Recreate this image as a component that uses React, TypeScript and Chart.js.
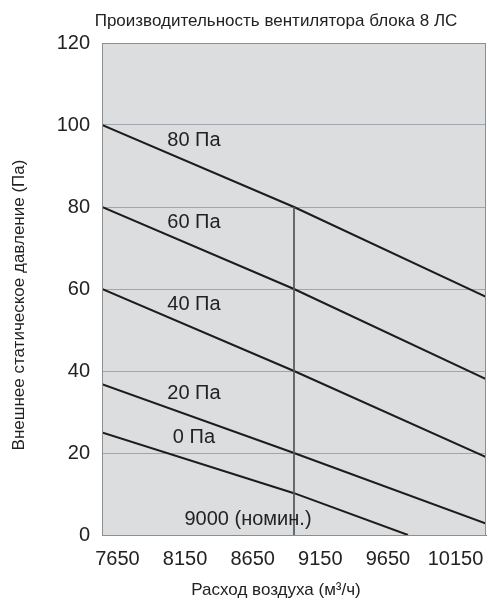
import React, { useEffect, useRef } from "react";
import { Chart, registerables } from "chart.js";

Chart.register(...registerables);

// Captions
const chartTitle = "Производительность вентилятора блока 8 ЛС";
const xAxisTitle = "Расход воздуха (м³/ч)";
const yAxisTitle = "Внешнее статическое давление (Па)";

// Horizontal axis: airflow, m³/h
const airflowMin = 7580;
const airflowMax = 10420;
const xTickValues = [7650, 8150, 8650, 9150, 9650, 10150];

// Vertical axis: external static pressure, Pa
const pressureMin = 0;
const pressureMax = 120;
const pressureStep = 20;

// Fan curves at each static pressure setting
const curveNames = ["80 Па", "60 Па", "40 Па", "20 Па", "0 Па"];
const airflow80 = [7580, 9000, 10420];
const pressure80 = [100, 80, 58.1];
const airflow60 = [7580, 9000, 10420];
const pressure60 = [80, 60, 38];
const airflow40 = [7580, 9000, 10420];
const pressure40 = [60, 40, 19];
const airflow20 = [7580, 9000, 10420];
const pressure20 = [36.8, 20, 2.8];
const airflow0 = [7580, 9000, 9843];
const pressure0 = [25, 10.2, 0];

// Nominal airflow marker
const nominalAirflow = 9000;
const nominalPressure = [80, 0];
const nominalLabel = "9000 (номин.)";
const nominalLabelAt = [8660, 3.8];

// Curve names are written just above each curve at this airflow
const curveLabelAirflow = 8260;

const curveAirflows = [airflow80, airflow60, airflow40, airflow20, airflow0];
const curvePressures = [pressure80, pressure60, pressure40, pressure20, pressure0];

const FONT = "'Liberation Sans', Arial, sans-serif";
const TEXT = "#222222";

function interpolate(xs: number[], ys: number[], x: number): number {
  for (let i = 0; i < xs.length - 1; i++) {
    if (x >= xs[i] && x <= xs[i + 1]) {
      const t = (x - xs[i]) / (xs[i + 1] - xs[i]);
      return ys[i] + t * (ys[i + 1] - ys[i]);
    }
  }
  return ys[ys.length - 1];
}

const plotDecor = {
  id: "plotDecor",
  beforeDraw(chart: any) {
    const { ctx, chartArea: a } = chart;
    ctx.save();
    ctx.fillStyle = "#dcdddf";
    ctx.fillRect(a.left, a.top, a.right - a.left, a.bottom - a.top);
    ctx.restore();
  },
  afterDatasetsDraw(chart: any) {
    const { ctx, scales } = chart;
    const xs = scales.x;
    const ys = scales.y;
    ctx.save();
    ctx.fillStyle = TEXT;
    ctx.font = `20px ${FONT}`;
    ctx.textAlign = "center";
    ctx.textBaseline = "middle";
    const lx = xs.getPixelForValue(curveLabelAirflow);
    curveNames.forEach((name, i) => {
      const p = interpolate(curveAirflows[i], curvePressures[i], curveLabelAirflow);
      ctx.fillText(name, lx, ys.getPixelForValue(p) - 24);
    });
    ctx.fillText(
      nominalLabel,
      xs.getPixelForValue(nominalLabelAt[0]),
      ys.getPixelForValue(nominalLabelAt[1])
    );
    ctx.restore();
  },
  afterDraw(chart: any) {
    const { ctx, chartArea: a, width } = chart;
    ctx.save();
    // frame around the plot
    ctx.strokeStyle = "#8e8e8e";
    ctx.lineWidth = 1;
    ctx.strokeRect(a.left + 0.5, a.top + 0.5, a.right - a.left - 1, a.bottom - a.top);

    ctx.fillStyle = TEXT;
    ctx.font = `17px ${FONT}`;
    ctx.textAlign = "center";
    ctx.textBaseline = "alphabetic";
    const cx = (a.left + width) / 2 - 23;
    ctx.fillText(chartTitle, cx, a.top - 17);
    ctx.fillText(xAxisTitle, cx, a.bottom + 60);

    ctx.translate(24, (a.top + a.bottom) / 2 + 16);
    ctx.rotate(-Math.PI / 2);
    ctx.fillText(yAxisTitle, 0, 0);
    ctx.restore();
  },
};

export default function App() {
  const canvasRef = useRef<HTMLCanvasElement | null>(null);

  useEffect(() => {
    document.body.style.margin = "0";
    const canvas = canvasRef.current;
    if (!canvas) return;

    const curveSets = curveNames.map((name, i) => ({
      label: name,
      data: curveAirflows[i].map((x, j) => ({ x, y: curvePressures[i][j] })),
      showLine: true,
      borderColor: "#1c1c1c",
      borderWidth: 2,
      pointRadius: 0,
      fill: false,
    }));

    const nominalSet = {
      label: nominalLabel,
      data: nominalPressure.map((y) => ({ x: nominalAirflow, y })),
      showLine: true,
      borderColor: "#555a60",
      borderWidth: 1,
      pointRadius: 0,
      fill: false,
    };

    const chart = new Chart(canvas, {
      type: "scatter",
      data: { datasets: [nominalSet, ...curveSets] },
      options: {
        animation: false,
        responsive: false,
        layout: { padding: { top: 43, right: 10, left: 0, bottom: 0 } },
        plugins: {
          legend: { display: false },
          tooltip: { enabled: false },
          title: { display: false },
        },
        scales: {
          x: {
            type: "linear",
            min: airflowMin,
            max: airflowMax,
            afterBuildTicks: (s: any) => {
              s.ticks = xTickValues.map((v) => ({ value: v }));
            },
            afterFit: (s: any) => {
              s.height = 68;
            },
            grid: { display: false, drawTicks: false },
            border: { display: true, color: "#7a7a7a", width: 1 },
            ticks: {
              autoSkip: false,
              maxRotation: 0,
              padding: 12,
              labelOffset: 6,
              color: TEXT,
              font: { family: FONT, size: 20 },
              callback: (v: any) => String(v),
            },
          },
          y: {
            type: "linear",
            min: pressureMin,
            max: pressureMax,
            afterFit: (s: any) => {
              s.width = 102;
            },
            grid: {
              drawTicks: false,
              lineWidth: 1,
              color: (c: any) =>
                c.tick && (c.tick.value === pressureMin || c.tick.value === pressureMax)
                  ? "rgba(0,0,0,0)"
                  : "#9fa5ad",
            },
            border: { display: true, color: "#8a8a8a", width: 1 },
            ticks: {
              stepSize: pressureStep,
              padding: 12,
              color: TEXT,
              font: { family: FONT, size: 20 },
            },
          },
        },
      },
      plugins: [plotDecor],
    });

    return () => chart.destroy();
  }, []);

  return (
    <div style={{ width: 496, height: 603 }}>
      <canvas ref={canvasRef} width={496} height={603} style={{ display: "block" }} />
    </div>
  );
}
